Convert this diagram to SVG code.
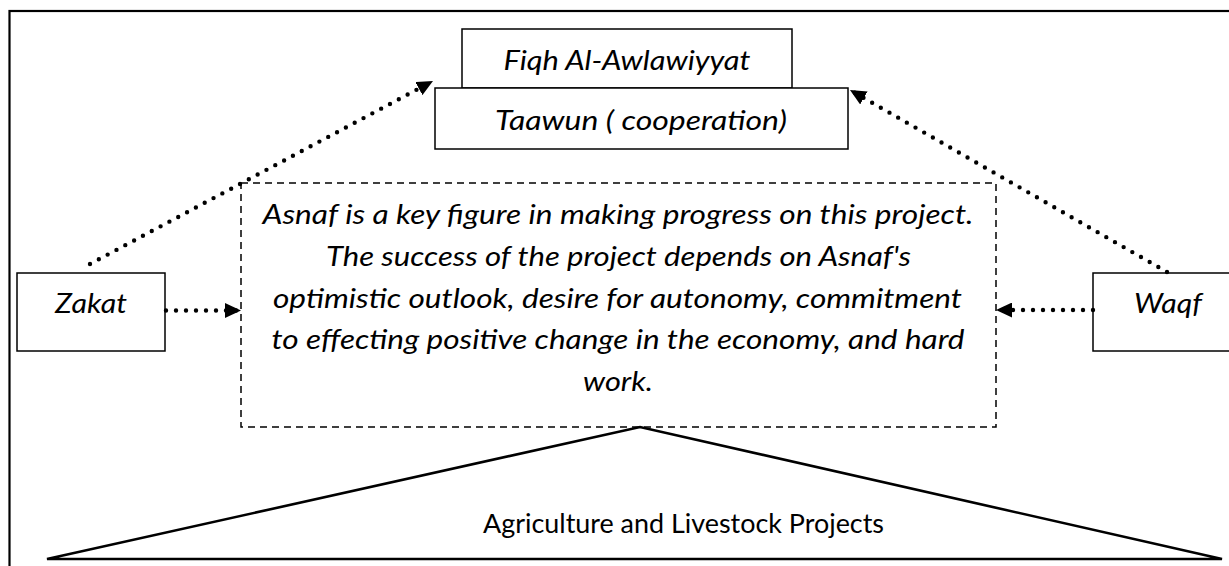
<svg xmlns="http://www.w3.org/2000/svg" width="1229" height="566" viewBox="0 0 1229 566">
<style>
.box{fill:#fff;stroke:#000;stroke-width:1.5}
.t{font-family:Lato,"Open Sans","Liberation Sans",sans-serif;font-size:27.5px;fill:#000;text-anchor:middle}
.i{font-style:italic}
.dot{fill:none;stroke:#000;stroke-width:4.4;stroke-linecap:round;stroke-dasharray:0 10}
</style>
<defs>
<marker id="ah" markerUnits="userSpaceOnUse" markerWidth="17" markerHeight="15" refX="16" refY="7.5" orient="auto">
<path d="M0,0 L16,7.5 L0,15 Z" fill="#000"/>
</marker>
</defs>
<rect width="1229" height="566" fill="#fff"/>
<rect id="frame" x="9.5" y="11" width="1240" height="600" fill="none" stroke="#000" stroke-width="2.2"/>

<g id="triangle">
<polygon points="47,559 640,427 1222,559" fill="none" stroke="#000" stroke-width="2.6" stroke-linejoin="miter"/>
<text class="t" x="683.5" y="533" textLength="401" lengthAdjust="spacingAndGlyphs">Agriculture and Livestock Projects</text>
</g>

<g id="asnaf">
<rect x="241" y="183" width="755" height="244" fill="none" stroke="#000" stroke-width="1.5" stroke-dasharray="7 5"/>
<text class="t i" x="618" y="224" textLength="711" lengthAdjust="spacingAndGlyphs">Asnaf is a key figure in making progress on this project.</text>
<text class="t i" x="618.5" y="266" textLength="585" lengthAdjust="spacingAndGlyphs">The success of the project depends on Asnaf's</text>
<text class="t i" x="617.5" y="308" textLength="689" lengthAdjust="spacingAndGlyphs">optimistic outlook, desire for autonomy, commitment</text>
<text class="t i" x="618" y="349" textLength="693" lengthAdjust="spacingAndGlyphs">to effecting positive change in the economy, and hard</text>
<text class="t i" x="618" y="391" textLength="70" lengthAdjust="spacingAndGlyphs">work.</text>
</g>

<g id="fiqh">
<rect class="box" x="462" y="29" width="330" height="59"/>
<text class="t i" x="627" y="70" textLength="247" lengthAdjust="spacingAndGlyphs">Fiqh Al-Awlawiyyat</text>
</g>

<g id="taawun">
<rect class="box" x="435" y="88" width="413" height="61"/>
<text class="t i" x="641" y="130" textLength="292" lengthAdjust="spacingAndGlyphs">Taawun ( cooperation)</text>
</g>

<g id="zakat">
<rect class="box" x="17" y="273" width="148" height="78"/>
<text class="t i" x="91" y="313" textLength="72" lengthAdjust="spacingAndGlyphs">Zakat</text>
</g>

<g id="waqf">
<rect class="box" x="1093" y="273" width="150" height="78"/>
<text class="t i" x="1168" y="313" textLength="68" lengthAdjust="spacingAndGlyphs">Waqf</text>
</g>

<g id="connectors">
<line class="dot" x1="90" y1="264" x2="433" y2="81" marker-end="url(#ah)"/>
<line class="dot" x1="1167" y1="272" x2="850" y2="90" marker-end="url(#ah)"/>
<line class="dot" x1="166" y1="310.5" x2="241" y2="310.5" marker-end="url(#ah)"/>
<line class="dot" x1="1093" y1="310" x2="996" y2="310" marker-end="url(#ah)"/>
</g>
</svg>
